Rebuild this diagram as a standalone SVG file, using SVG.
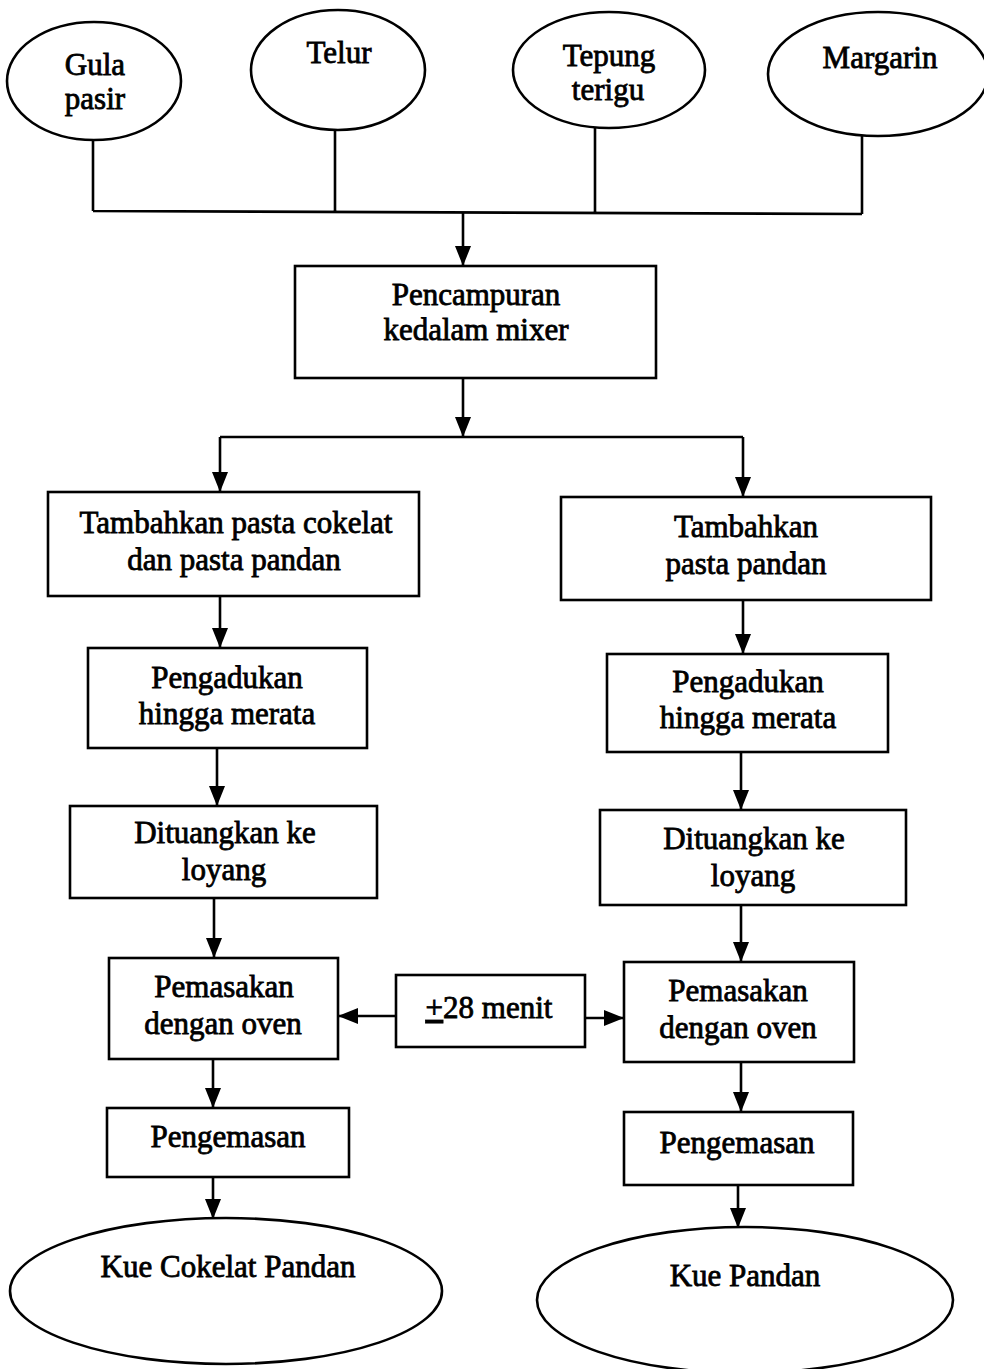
<svg xmlns="http://www.w3.org/2000/svg" width="984" height="1369" viewBox="0 0 984 1369">
  <style>
    .shape { fill: #fff; stroke: #000; stroke-width: 2.6; }
    .line { fill: none; stroke: #000; stroke-width: 2.6; }
    .arrow { fill: none; stroke: #000; stroke-width: 2.6; marker-end: url(#head); }
    text { font-family: "Liberation Serif", "Times New Roman", serif; font-size: 31px; fill: #000; stroke: #000; stroke-width: 0.8; text-anchor: middle; }
  </style>
  <defs>
    <marker id="head" viewBox="0 0 20 16" refX="20" refY="8" markerWidth="20" markerHeight="16" markerUnits="userSpaceOnUse" orient="auto">
      <path d="M0,0 L20,8 L0,16 z" fill="#000"/>
    </marker>
  </defs>
  <rect width="984" height="1369" fill="#fff"/>

  <!-- connectors -->
  <g id="connectors">
    <!-- ingredients merge bar -->
    <path class="line" d="M93,140 V211 M335,130 V211 M595,128 V212 M862,135 V214 M93,211 L862,214"/>
    <path class="arrow" d="M463,212 V266"/>
    <!-- split into two branches -->
    <path class="arrow" d="M463,378 V437"/>
    <path class="line" d="M220,437 H743"/>
    <path class="arrow" d="M220,437 V492"/>
    <path class="arrow" d="M743,437 V497"/>
    <!-- left branch -->
    <path class="arrow" d="M220,596 V648"/>
    <path class="arrow" d="M217,748 V806"/>
    <path class="arrow" d="M214,898 V958"/>
    <path class="arrow" d="M213,1059 V1108"/>
    <path class="arrow" d="M213,1177 V1219"/>
    <!-- right branch -->
    <path class="arrow" d="M743,600 V654"/>
    <path class="arrow" d="M741,752 V810"/>
    <path class="arrow" d="M741,905 V962"/>
    <path class="arrow" d="M741,1062 V1112"/>
    <path class="arrow" d="M738,1185 V1228"/>
    <!-- baking time to both ovens -->
    <path class="arrow" d="M396,1016 H338"/>
    <path class="arrow" d="M585,1018 H624"/>
  </g>

  <!-- ingredients -->
  <g id="gula-pasir">
    <ellipse class="shape" cx="94" cy="81" rx="87" ry="59"/>
    <text x="95" y="75">Gula</text>
    <text x="95" y="109">pasir</text>
  </g>
  <g id="telur">
    <ellipse class="shape" cx="338" cy="70" rx="87" ry="60"/>
    <text x="339" y="63">Telur</text>
  </g>
  <g id="tepung-terigu">
    <ellipse class="shape" cx="609" cy="70" rx="96" ry="58"/>
    <text x="609" y="66">Tepung</text>
    <text x="608" y="100">terigu</text>
  </g>
  <g id="margarin">
    <ellipse class="shape" cx="878" cy="74" rx="110" ry="62"/>
    <text x="880" y="68">Margarin</text>
  </g>

  <!-- mixing -->
  <g id="pencampuran">
    <rect class="shape" x="295" y="266" width="361" height="112"/>
    <text x="476" y="305">Pencampuran</text>
    <text x="476" y="340">kedalam mixer</text>
  </g>

  <!-- left branch: chocolate pandan -->
  <g id="tambah-cokelat">
    <rect class="shape" x="48" y="492" width="371" height="104"/>
    <text x="236" y="533">Tambahkan pasta cokelat</text>
    <text x="234" y="570">dan pasta pandan</text>
  </g>
  <g id="aduk-kiri">
    <rect class="shape" x="88" y="648" width="279" height="100"/>
    <text x="227" y="688">Pengadukan</text>
    <text x="227" y="724">hingga merata</text>
  </g>
  <g id="tuang-kiri">
    <rect class="shape" x="70" y="806" width="307" height="92"/>
    <text x="225" y="843">Dituangkan ke</text>
    <text x="224" y="880">loyang</text>
  </g>
  <g id="oven-kiri">
    <rect class="shape" x="109" y="958" width="229" height="101"/>
    <text x="224" y="997">Pemasakan</text>
    <text x="223" y="1034">dengan oven</text>
  </g>
  <g id="kemas-kiri">
    <rect class="shape" x="107" y="1108" width="242" height="69"/>
    <text x="228" y="1147">Pengemasan</text>
  </g>
  <g id="kue-cokelat-pandan">
    <ellipse class="shape" cx="226" cy="1291" rx="216" ry="73"/>
    <text x="228" y="1277">Kue Cokelat Pandan</text>
  </g>

  <!-- baking time -->
  <g id="waktu">
    <rect class="shape" x="396" y="975" width="189" height="72"/>
    <text x="489" y="1018"><tspan text-decoration="underline">+</tspan>28 menit</text>
  </g>

  <!-- right branch: pandan -->
  <g id="tambah-pandan">
    <rect class="shape" x="561" y="497" width="370" height="103"/>
    <text x="746" y="537">Tambahkan</text>
    <text x="746" y="574">pasta pandan</text>
  </g>
  <g id="aduk-kanan">
    <rect class="shape" x="607" y="654" width="281" height="98"/>
    <text x="748" y="692">Pengadukan</text>
    <text x="748" y="728">hingga merata</text>
  </g>
  <g id="tuang-kanan">
    <rect class="shape" x="600" y="810" width="306" height="95"/>
    <text x="754" y="849">Dituangkan ke</text>
    <text x="753" y="886">loyang</text>
  </g>
  <g id="oven-kanan">
    <rect class="shape" x="624" y="962" width="230" height="100"/>
    <text x="738" y="1001">Pemasakan</text>
    <text x="738" y="1038">dengan oven</text>
  </g>
  <g id="kemas-kanan">
    <rect class="shape" x="624" y="1112" width="229" height="73"/>
    <text x="737" y="1153">Pengemasan</text>
  </g>
  <g id="kue-pandan">
    <ellipse class="shape" cx="745" cy="1300" rx="208" ry="73"/>
    <text x="745" y="1286">Kue Pandan</text>
  </g>
</svg>
